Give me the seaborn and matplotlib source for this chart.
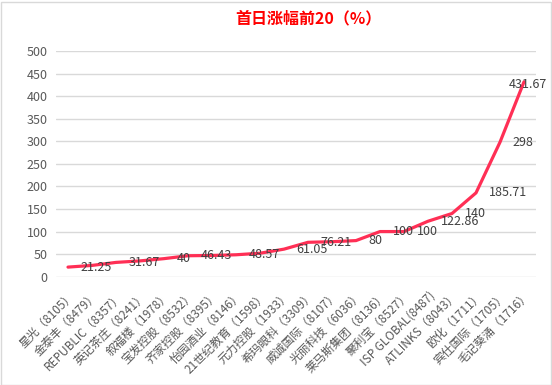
import matplotlib
matplotlib.use("Agg")
import matplotlib.pyplot as plt
import seaborn as sns
import pandas as pd
from matplotlib.patches import Rectangle

categories = ["星光（8105）", "金泰丰（8479）", "REPUBLIC（8357）", "英记茶庄（8241）",
              "叙福楼（1978）", "宝发控股（8532）", "齐家控股（8395）", "怡园酒业（8146）",
              "21世纪教育（1598）", "元力控股（1933）", "希玛眼科（3309）", "威诚国际（8107）",
              "光丽科技（6036）", "莱马斯集团（8136）", "聚利宝（8527）", "ISP GLOBAL(8487)",
              "ATLINKS（8043）", "欧化（1711）", "宾仕国际（1705）", "毛记葵涌（1716）"]
values = [21.25, 25.0, 31.67, 35.0, 40, 46.43, 47.0, 48.57, 52.0, 61.05,
          76.21, 77.5, 80, 100, 100, 122.86, 140, 185.71, 298, 431.67]
shown_labels = [True, False, True, False, True, True, False, True, False, True,
                True, False, True, True, True, True, True, True, True, True]
yticks = [0, 50, 100, 150, 200, 250, 300, 350, 400, 450, 500]

sns.set_style("white")
plt.rcParams['font.family'] = ['Noto Sans CJK SC', 'DejaVu Sans']

df = pd.DataFrame({"x": range(len(categories)), "v": values})

fig = plt.figure(figsize=(5.52, 3.85), dpi=100)
ax = fig.add_axes([56/552, 1-276.7/385, 480/552, (276.7-51)/385])

sns.lineplot(data=df, x="x", y="v", ax=ax, color="#FF2F55", linewidth=2.3, zorder=3)

ax.set_xlim(-0.5, len(categories)-0.5)
ax.set_ylim(0, 500)
ax.set_yticks(yticks)
ax.set_yticklabels([str(t) for t in yticks], fontsize=9, color="#595959")
ax.set_xticks(range(len(categories)))
ax.set_xticklabels(categories, rotation=45, ha="right", rotation_mode="anchor",
                   fontsize=8.5, color="#595959")
ax.tick_params(axis="x", length=0, pad=9)
ax.tick_params(axis="y", length=0, pad=6)
ax.grid(axis="y", color="#D9D9D9", linewidth=1)
ax.set_axisbelow(True)
for s in ax.spines.values():
    s.set_visible(False)
ax.set_xlabel("")
ax.set_ylabel("")

for i, (v, show) in enumerate(zip(values, shown_labels)):
    if not show:
        continue
    lab = f"{v:g}"
    if i == len(values) - 1:
        ax.annotate(lab, (i, v), xytext=(3, -2), textcoords="offset points",
                    ha="center", va="center", fontsize=9, color="#404040", zorder=4)
    else:
        ax.annotate(lab, (i, v), xytext=(9, 0), textcoords="offset points",
                    ha="left", va="center", fontsize=9, color="#404040", zorder=4)

fig.text(308/552, 1-18/385, "首日涨幅前20（%）", ha="center", va="center",
         fontsize=11.5, fontweight="bold", color="#FF0000")

fig.patches.append(Rectangle((0.5/552, 0.5/385), 550/552, 383/385, transform=fig.transFigure,
                             fill=False, edgecolor="#D9D9D9", linewidth=1))

fig.savefig("out.png", dpi=100)
